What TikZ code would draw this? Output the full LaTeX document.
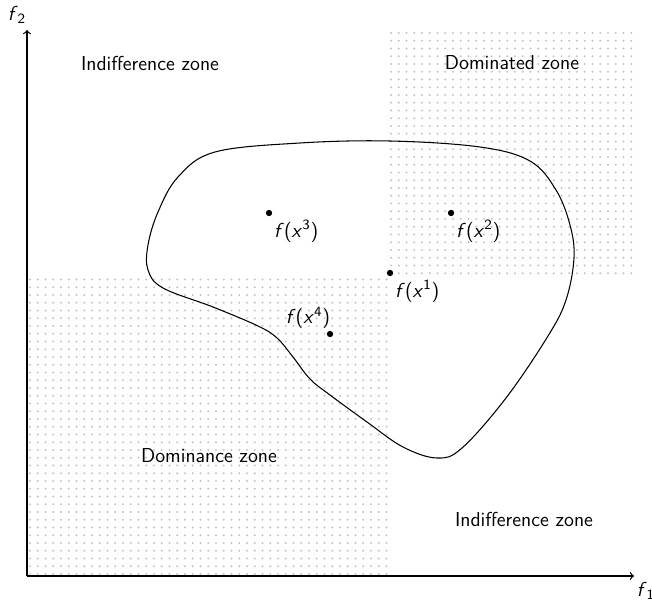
\documentclass[tikz,border=0pt]{standalone}
\usepackage{tikz}
\usetikzlibrary{positioning}
\renewcommand{\familydefault}{\sfdefault}
\newcommand{\fval}[1]{\textit{f}(\textit{x}\textsuperscript{#1})}
\definecolor{DotGray}{RGB}{196,196,196}

\begin{document}
\begin{tikzpicture}[x=0.02cm,y=-0.02cm,
    every node/.style={font=\fontsize{11.5}{14}\selectfont},
    pt/.style={circle,fill=black,inner sep=0pt,minimum size=3.6pt},
    dotmark/.style={fill=DotGray},
    axis/.style={->,line width=0.7pt}]
    \useasboundingbox (0,0) rectangle (652,601);
    % dotted zones
    \foreach \i in {0,...,46}
        \foreach \j in {0,...,38}
            \fill[dotmark] (30+7.75*\i,574-7.75*\j) circle (1.2);
    \foreach \i in {0,...,31}
        \foreach \j in {0,...,31}
            \fill[dotmark] (391+7.75*\i,33+7.75*\j) circle (1.2);
    % axes
    \coordinate (o) at (27,576);
    \coordinate (xend) at (634,576);
    \coordinate (yend) at (27,30);
    \draw[axis] (o) -- (xend);
    \draw[axis] (o) -- (yend);
    \node (f1) at (646,591) {\textit{f}\textsubscript{1}};
    \node (f2) at (17,15) {\textit{f}\textsubscript{2}};
    % feasible set image
    \draw[line width=0.6pt] plot[smooth cycle,tension=0.6] coordinates {
        (215,152) (300,143) (390,141) (480,147) (530,161) (556,190)
        (570,225) (574,258) (566,300) (548,336) (506,398)
        (462,448) (437,458) (403,447) (367,422) (330,395) (310,379)
        (293,357) (277,338) (258,326) (213,307) (163,288) (148,270)
        (148,245) (158,212) (178,177)};
    % points
    \node[pt] (p1) at (390,273) {};
    \node[pt] (p2) at (451,213) {};
    \node[pt] (p3) at (269,213) {};
    \node[pt] (p4) at (330,334) {};
    \node[below right=-1pt and -2pt of p1] (l1) {\fval{1}};
    \node[below right=-1pt and -2pt of p2] (l2) {\fval{2}};
    \node[below right=-1pt and -2pt of p3] (l3) {\fval{3}};
    \node[above left=-2pt and -5pt of p4] (l4) {\fval{4}};
    % zones
    \node (indTop) at (150,63) {Indifference zone};
    \node (domd) at (512,63) {Dominated zone};
    \node (domc) at (209,456) {Dominance zone};
    \node (indBot) at (524,519) {Indifference zone};
\end{tikzpicture}
\end{document}
